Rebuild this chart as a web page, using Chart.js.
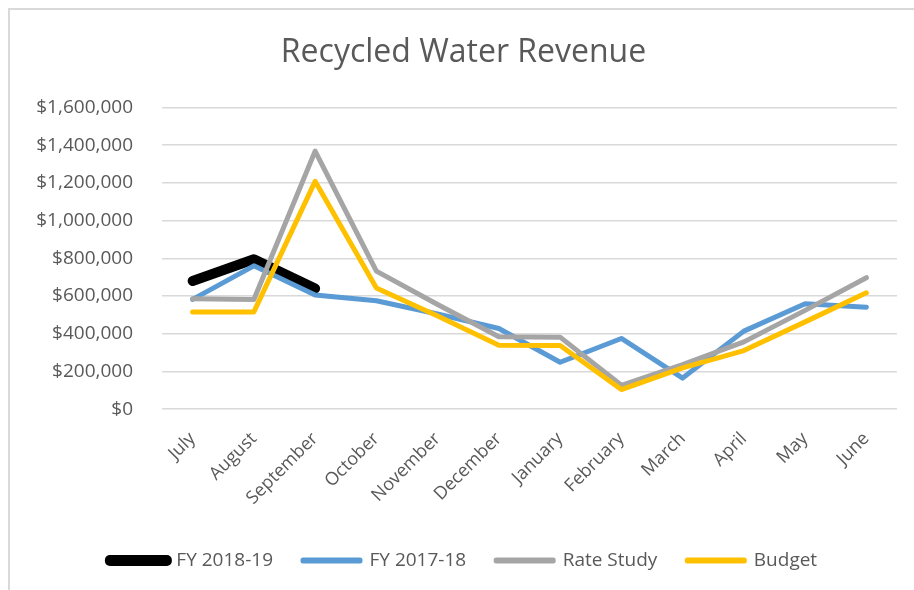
<!DOCTYPE html>
<html lang="en">
  <head>
    <meta charset="UTF-8" />
    <title>Recycled Water Revenue</title>
    <script src="https://cdn.jsdelivr.net/npm/chart.js@4.4.0/dist/chart.umd.min.js"></script>
    <style>
      html, body { margin: 0; padding: 0; background: #fff; }
      #wrap { position: relative; width: 914px; height: 590px; overflow: hidden; }
      #frame { position: absolute; left: 8px; top: 8px; width: 1000px; height: 700px;
               border-left: 2px solid #d9d9d9; border-top: 2px solid #d9d9d9; }
      canvas { position: absolute; left: 0; top: 0; }
    </style>
  </head>
  <body>
  <div id="wrap">
    <div id="frame"></div>
    <canvas id="revChart" width="914" height="590"></canvas>
  </div>

  <script>
    // months of the fiscal year
    const months = ['July', 'August', 'September', 'October', 'November', 'December',
                    'January', 'February', 'March', 'April', 'May', 'June'];

    // revenue per month ($)
    const fy1819 = [680000, 795000, 640000, null, null, null, null, null, null, null, null, null];
    const fy1718 = [582000, 760000, 605000, 575000, 505000, 428000, 249000, 375000, 165000, 414000, 559000, 541000];
    const rateStudy = [585000, 582000, 1368000, 732000, 555000, 384000, 382000, 127000, 237000, 357000, 524000, 697000];
    const budget = [516000, 516000, 1208000, 643000, 494000, 339000, 338000, 104000, 219000, 311000, 463000, 617000];

    const grey = '#595959';
    const font = 'Open Sans';

    function series(label, data, color, width, order) {
      return {
        label: label,
        data: data,
        borderColor: color,
        backgroundColor: color,
        borderWidth: width,
        borderCapStyle: 'round',
        borderJoinStyle: 'round',
        pointRadius: 0,
        tension: 0,
        spanGaps: false,
        order: order
      };
    }

    const ctx = document.getElementById('revChart').getContext('2d');
    const revChart = new Chart(ctx, {
      type: 'line',
      data: {
        labels: months,
        datasets: [
          series('FY 2018-19', fy1819, '#000000', 10, 4),
          series('FY 2017-18', fy1718, '#5b9bd5', 5, 3),
          series('Rate Study', rateStudy, '#a5a5a5', 5, 2),
          series('Budget', budget, '#ffc000', 5, 1)
        ]
      },
      options: {
        responsive: false,
        animation: false,
        layout: { padding: { left: 30, right: 17, top: 34, bottom: 10 } },
        plugins: {
          title: {
            display: true,
            text: 'Recycled Water Revenue',
            color: grey,
            font: { family: font, size: 32, weight: 'normal' },
            padding: { top: 0, bottom: 35 }
          },
          legend: {
            position: 'bottom',
            labels: {
              color: grey,
              font: { family: font, size: 19 },
              boxWidth: 57,
              boxHeight: 1,
              padding: 30,
              sort: (a, b) => a.datasetIndex - b.datasetIndex
            }
          },
          tooltip: { enabled: false }
        },
        scales: {
          x: {
            offset: true,
            grid: { display: false },
            border: { display: false },
            afterFit: scale => { scale.height += 1; },
            ticks: {
              color: grey,
              font: { family: font, size: 18 },
              maxRotation: 45,
              minRotation: 45,
              padding: 11
            }
          },
          y: {
            min: 0,
            max: 1600000,
            grid: { color: '#d9d9d9', lineWidth: 1.5, drawTicks: false },
            border: { display: false },
            afterFit: scale => { scale.width = 132; },
            ticks: {
              stepSize: 200000,
              color: grey,
              font: { family: font, size: 19 },
              padding: 29,
              callback: v => '$' + v.toLocaleString('en-US')
            }
          }
        }
      }
    });
  </script>
  </body>
</html>
